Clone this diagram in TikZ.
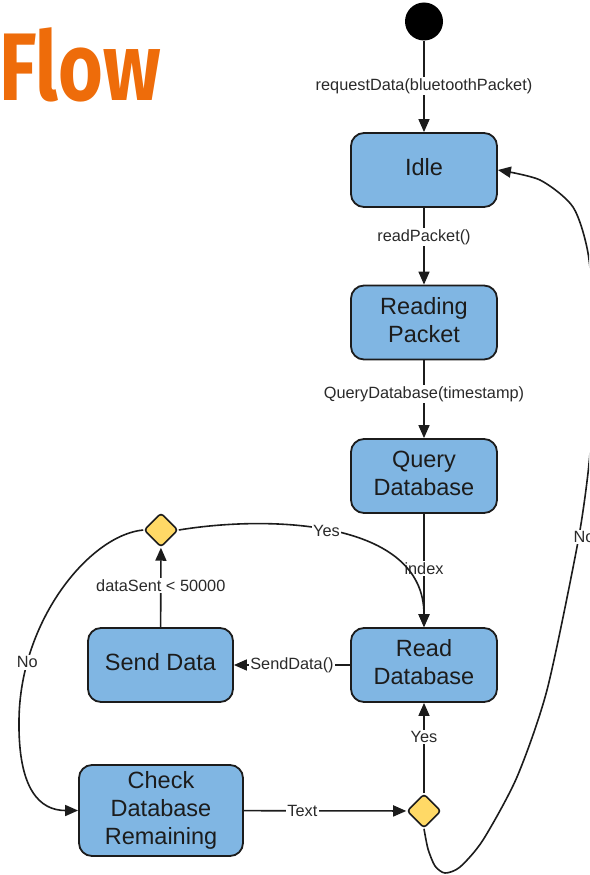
\documentclass[tikz,border=0pt]{standalone}
\usepackage{fontspec}
\usepackage{graphicx}
\setmainfont{Liberation Sans}
\newfontfamily\titlefont{Fira Sans}
\usetikzlibrary{shapes.geometric,arrows.meta}
\definecolor{boxblue}{HTML}{80B6E3}
\definecolor{decyellow}{HTML}{FFD966}
\definecolor{inkdark}{HTML}{1C1C1C}
\definecolor{labelgrey}{HTML}{2A2A2A}
\definecolor{titleorange}{HTML}{EE6C0A}

% centred block of lines with struts, so the text sits a little high in its box
\newcommand\stacktext[1]{\begin{tabular}{@{}c@{}}#1\end{tabular}}

\begin{document}
\begin{tikzpicture}[x=1pt,y=-1pt,
  state/.style={draw=inkdark, line width=1.8pt, fill=boxblue, rounded corners=13pt,
    minimum width=146pt, minimum height=74pt, text=inkdark,
    font=\fontsize{23.5}{28}\selectfont, inner sep=0pt},
  decision/.style={diamond, draw=inkdark, line width=1.6pt, fill=decyellow,
    rounded corners=3pt, minimum width=34pt, minimum height=34pt, inner sep=0pt},
  flow/.style={line width=1.6pt, draw=inkdark, -{Triangle[length=13pt,width=11pt]}},
  lbl/.style={fill=white, text=labelgrey, font=\fontsize{16.3}{19}\selectfont, inner sep=1.5pt},
]
\useasboundingbox (0,0) rectangle (589,875);
\clip (0,0) rectangle (589,875);

% title
\node[anchor=base west, inner sep=0pt, text=titleorange] (title) at (-1,100)
  {\titlefont\bfseries\fontsize{96}{96}\selectfont\scalebox{0.80}[1]{Flow}};

% states
\node[circle, fill=black, minimum size=38pt, inner sep=0pt] (init) at (424,21.5) {};
\node[state] (idle) at (424,170) {\stacktext{Idle}};
\node[state] (reading) at (424,322.5) {\stacktext{Reading\\Packet}};
\node[state] (query) at (424,476) {\stacktext{Query\\Database}};
\node[state] (readdb) at (424,665) {\stacktext{Read\\Database}};
\node[state, minimum width=145pt] (send) at (160.5,665) {\stacktext{Send Data}};
\node[state, minimum width=164pt, minimum height=91pt] (check) at (161,810.5)
  {\stacktext{Check\\Database\\Remaining}};

% decisions
\node[decision] (d1) at (161,530) {};
\node[decision] (d2) at (424,811) {};

% straight transitions
\draw[flow] (init) -- node[lbl] {requestData(bluetoothPacket)} (idle);
\draw[flow] (idle) -- node[lbl, pos=0.38] {readPacket()} (reading);
\draw[flow] (reading) -- node[lbl, pos=0.43] {QueryDatabase(timestamp)} (query);
\draw[flow] (query) -- node[lbl, pos=0.48] {index} (readdb);
\draw[flow] (readdb) -- node[lbl] {SendData()} (send);
\draw[flow] (send) -- node[lbl, pos=0.52] {dataSent < 50000} (d1);
\draw[flow] (d2) -- node[lbl, pos=0.62] {Yes} (readdb);
\draw[flow] (check) -- node[lbl, pos=0.36] {Text} (d2);

% curved transitions
\draw[flow] (d1.east) .. controls (270,515) and (424,520) .. (readdb.north)
  node[lbl, pos=0.47] {Yes};
\draw[flow] (d1.west) .. controls (90,535) and (20,620) .. (19,720)
  node[lbl, pos=0.80] {No}
  .. controls (18,790) and (40,810.5) .. (check.west);
\draw[flow] plot[smooth, tension=0.45] coordinates
  {(d2.south) (428,849) (435,866) (445,873) (460,867) (483,840) (517,777)
   (547,690) (577,547) (588,473) (594,400) (595,330) (588,253) (573,207)
   (540,180) (idle.east)};
\node[lbl] (noright) at (584,537) {No};
\end{tikzpicture}
\end{document}
